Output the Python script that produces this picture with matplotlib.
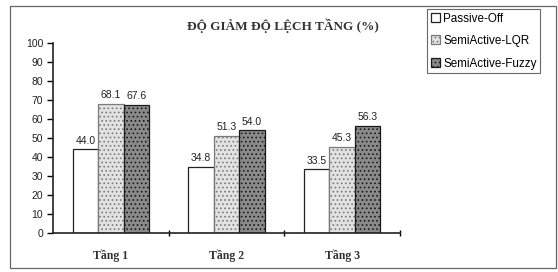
import matplotlib
matplotlib.use("Agg")
import matplotlib.pyplot as plt
from matplotlib.patches import Rectangle
import numpy as np

categories = ["Tầng 1", "Tầng 2", "Tầng 3"]
series_names = ["Passive-Off", "SemiActive-LQR", "SemiActive-Fuzzy"]
passive = [44.0, 34.8, 33.5]
lqr = [68.1, 51.3, 45.3]
fuzzy = [67.6, 54.0, 56.3]
yticks = [0, 10, 20, 30, 40, 50, 60, 70, 80, 90, 100]
title = "ĐỘ GIẢM ĐỘ LỆCH TẦNG (%)"

plt.rcParams['hatch.linewidth'] = 0.7
fig = plt.figure(figsize=(5.58, 2.72), dpi=100)
ax = fig.add_axes([53/558, 1-233/272, (400-53)/558, (233-43)/272])

x = np.arange(len(categories))
w = 0.22
styles = [
    dict(facecolor="white", edgecolor="#222222", hatch=None),
    dict(facecolor="#e2e2e2", edgecolor="#7a7a7a", hatch="...."),
    dict(facecolor="#8a8a8a", edgecolor="#1a1a1a", hatch="...."),
]
data = [passive, lqr, fuzzy]
handles = []
for i, (vals, st, name) in enumerate(zip(data, styles, series_names)):
    b = ax.bar(x + (i - 1) * w, vals, w, label=name, linewidth=0.9, **st)
    handles.append(b)
    for xi, v in zip(x + (i - 1) * w, vals):
        ax.text(xi, v + 2, f"{v:.1f}", ha="center", va="bottom",
                fontsize=7.5, family="Liberation Sans", color="#222222")

ax.set_xlim(-0.5, 2.5)
ax.set_ylim(0, 100)
ax.set_yticks(yticks)
ax.set_yticklabels([str(t) for t in yticks], fontsize=7.5, family="Liberation Sans", color="#222222")
ax.set_xticks([0.5, 1.5, 2.5])
ax.set_xticklabels([])
ax.set_xticks(x, minor=True)
ax.set_xticklabels(categories, minor=True, fontsize=8.5, family="Liberation Serif",
                   fontweight="bold", color="#333333")
ax.tick_params(axis="x", which="minor", length=0, pad=12)
ax.tick_params(axis="x", which="major", length=4, width=1.0, direction="inout")
ax.tick_params(axis="y", length=4, width=1.0, pad=3, direction="out")
for s in ["top", "right"]:
    ax.spines[s].set_visible(False)
for s in ["left", "bottom"]:
    ax.spines[s].set_linewidth(1.2)
    ax.spines[s].set_color("#222222")

fig.text(283/558, 1-26/272, title, ha="center", va="center", fontsize=9.5,
         family="Liberation Serif", fontweight="bold", color="#333333")

leg = fig.legend(handles=handles, labels=series_names, loc="upper left",
                 bbox_to_anchor=(427/558, 1-9/272), frameon=True, fancybox=False,
                 prop=dict(family="Liberation Sans", size=8.4), handlelength=0.8,
                 handleheight=0.8, handletextpad=0.3, borderpad=0.3, labelspacing=0.9,
                 borderaxespad=0)
leg.get_frame().set_edgecolor("#444444")
leg.get_frame().set_linewidth(0.8)

fig.patches.append(Rectangle((10/558, 4/272), 546/558, 262/272, transform=fig.transFigure,
                             fill=False, edgecolor="#666666", linewidth=0.9))

fig.savefig("out.png", dpi=100)
